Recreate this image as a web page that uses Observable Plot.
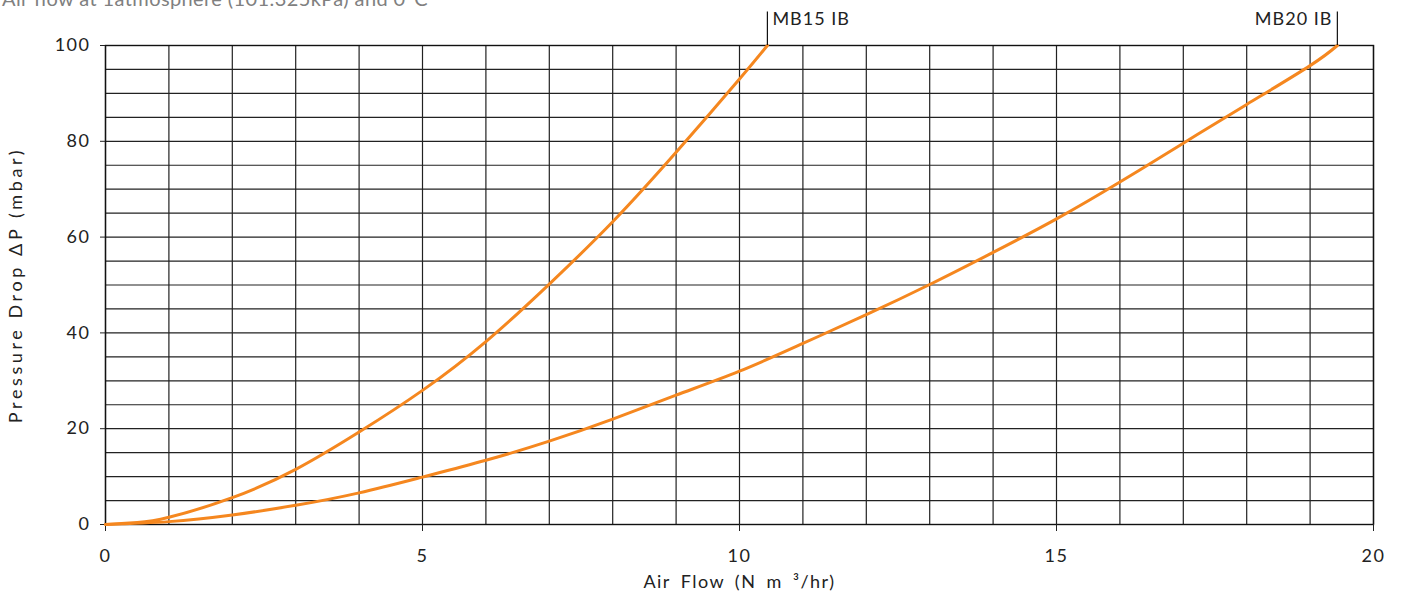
<!DOCTYPE html>
<html>
<head>
<meta charset="utf-8">
<script src="https://cdn.jsdelivr.net/npm/d3@7"></script>
<script src="https://cdn.jsdelivr.net/npm/@observablehq/plot@0.6"></script>
<style>
  html, body { margin: 0; padding: 0; background: #fff; overflow: hidden; }
  #wrap { position: relative; width: 1402px; height: 599px; }
  #sub { position: absolute; left: 2px; top: -14px; font: 20px Lato, sans-serif; letter-spacing: 0.4px; color: #808080; white-space: nowrap; }
  #chart { position: absolute; left: 0; top: 0; }
  #chart svg [aria-label="y-axis label"] text { letter-spacing: 3.6px; }
  #chart svg [aria-label="x-axis label"] text { letter-spacing: 1.5px; word-spacing: 4px; }
  #chart svg [aria-label="x-axis tick label"] text,
  #chart svg [aria-label="y-axis tick label"] text { letter-spacing: 1.5px; }
  #chart svg [aria-label="text"] text { letter-spacing: 1px; }
</style>
</head>
<body>
<div id="wrap">
  <div id="chart"></div>
  <div id="sub">Air flow at 1atmosphere (101.325kPa) and 0°C</div>
</div>
<script>
const seriesNames = ["MB15 IB", "MB20 IB"];
const mb15Flow = [0, 0.5, 1, 2, 3, 4, 5, 6, 7, 8, 9, 10, 10.44];
const mb15Drop = [0, 0.4, 1.5, 5.6, 11.5, 19.3, 28, 38.2, 50.2, 63.2, 77.7, 93, 100];
const mb20Flow = [0, 1, 2, 3, 4, 5, 6, 7, 8, 9, 10, 11, 12, 13, 14, 15, 16, 17, 18, 19, 19.43];
const mb20Drop = [0, 0.6, 2, 4, 6.6, 9.9, 13.4, 17.4, 22, 27, 32, 37.8, 43.8, 50.1, 56.8, 63.8, 71.5, 79.6, 87.7, 95.8, 100];
const xTicks = [0, 5, 10, 15, 20];
const yTicks = [0, 20, 40, 60, 80, 100];

const rows = [];
mb15Flow.forEach((x, i) => rows.push({series: seriesNames[0], flow: x, drop: mb15Drop[i]}));
mb20Flow.forEach((x, i) => rows.push({series: seriesNames[1], flow: x, drop: mb20Drop[i]}));

const ends = [
  {series: seriesNames[0], flow: mb15Flow[mb15Flow.length - 1]},
  {series: seriesNames[1], flow: mb20Flow[mb20Flow.length - 1]}
];

const font = "Lato, 'Open Sans', sans-serif";

const chart = Plot.plot({
  width: 1402,
  height: 599,
  marginLeft: 105,
  marginRight: 29,
  marginTop: 45,
  marginBottom: 75,
  style: {fontFamily: font, fontSize: "19px", color: "#222", background: "#fff"},
  x: {domain: [0, 20]},
  y: {domain: [0, 100]},
  marks: [
    Plot.gridX(d3.range(0, 21, 1), {stroke: "#222", strokeOpacity: 1, strokeWidth: 1.2}),
    Plot.gridY(d3.range(0, 101, 5), {stroke: "#222", strokeOpacity: 1, strokeWidth: 1.2}),
    Plot.frame({stroke: "#111", strokeWidth: 1.4}),
    Plot.axisX(xTicks, {tickSize: 7, tickPadding: 18, fontSize: 18, label: "Air Flow (N m ³/hr)", labelAnchor: "center", labelOffset: 63, labelArrow: "none"}),
    Plot.axisY(yTicks, {tickSize: 5, tickPadding: 10, fontSize: 18, label: "Pressure Drop ΔP (mbar)", labelAnchor: "center", labelOffset: 96, labelArrow: "none"}),
    Plot.line(rows, {x: "flow", y: "drop", z: "series", stroke: "#f5871f", strokeWidth: 3, curve: "natural"}),
    Plot.ruleX(ends, {x: "flow", y1: 100, y2: 107, stroke: "#111", strokeWidth: 1.2}),
    Plot.text([ends[0]], {x: "flow", y: 105.5, text: "series", textAnchor: "start", dx: 5, fontSize: 18, fill: "#222"}),
    Plot.text([ends[1]], {x: "flow", y: 105.5, text: "series", textAnchor: "end", dx: -5, fontSize: 18, fill: "#222"})
  ]
});

document.getElementById("chart").append(chart);
</script>
</body>
</html>
